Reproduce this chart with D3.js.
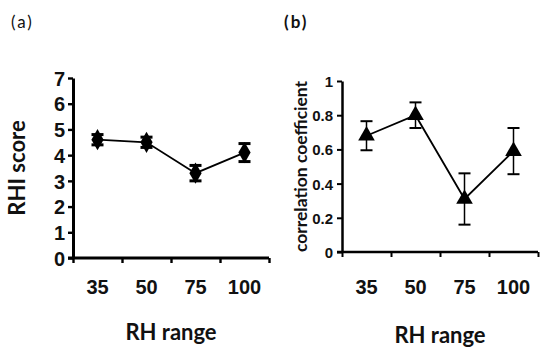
<!DOCTYPE html>
<html><head><meta charset="utf-8">
<script src="https://cdn.jsdelivr.net/npm/d3@7/dist/d3.min.js"></script>
<style>
html,body{margin:0;padding:0;background:#fff;}
svg{display:block;font-family:Lato,"Open Sans",sans-serif;}
</style></head>
<body>
<svg id="c" width="540" height="347"></svg>
<script>
const categories = ["35","50","75","100"];
const rhiScore = [4.6, 4.5, 3.3, 4.1];
const rhiErr = [0.2, 0.2, 0.3, 0.35];
const corrCoef = [0.68, 0.80, 0.31, 0.59];
const corrErr = [0.085, 0.075, 0.15, 0.135];
const rhiTicks = [0,1,2,3,4,5,6,7];
const corrTicks = [0,0.2,0.4,0.6,0.8,1];

const svg = d3.select("#c");

function panel(o){
  const g = svg.append("g");
  const x = d3.scaleBand().domain(categories).range([o.x0,o.x1]).padding(0);
  const xb = d3.scaleLinear().domain([0,categories.length]).range([o.x0,o.x1]);
  const y = d3.scaleLinear().domain(o.ydom).range([o.y0,o.y1]);
  // y axis
  const ya = g.append("g").attr("transform",`translate(${o.x0},0)`)
    .call(d3.axisLeft(y).tickValues(o.ticks).tickSize(5).tickSizeOuter(0).tickPadding(o.yPad).tickFormat(d=>d3.format("")(d)));
  ya.select(".domain").attr("stroke","#000").attr("stroke-width",o.axW);
  ya.selectAll(".tick line").attr("stroke","#000").attr("stroke-width",o.axW*0.8);
  ya.selectAll(".tick text").attr("font-size",o.yFs).attr("font-weight","bold").attr("fill","#111").attr("dy","0.36em");
  // x axis tick marks at band boundaries
  const xa = g.append("g").attr("transform",`translate(0,${o.y0})`)
    .call(d3.axisBottom(xb).tickValues(d3.range(categories.length+1)).tickSize(5).tickSizeOuter(0).tickFormat(""));
  xa.select(".domain").attr("stroke","#000").attr("stroke-width",o.axW).attr("d",`M${o.x0-5},0H${o.x1}`);
  xa.selectAll(".tick line").attr("stroke","#000").attr("stroke-width",o.axW*0.8);
  // x labels
  const xl = g.append("g").attr("transform",`translate(0,${o.y0})`)
    .call(d3.axisBottom(x).tickSize(0).tickPadding(0));
  xl.select(".domain").remove();
  xl.selectAll(".tick text").attr("font-size",20).attr("font-weight","bold").attr("fill","#111").attr("dy",null).attr("y",o.xLabY);
  // line
  const cx = d=>x(d)+x.bandwidth()/2;
  g.append("path").datum(categories).attr("fill","none").attr("stroke","#000").attr("stroke-width",1.8)
    .attr("d",d3.line().x(cx).y((d,i)=>y(o.vals[i])));
  // error bars
  const eb = g.append("g").selectAll("g").data(categories).join("g");
  eb.append("line").attr("x1",cx).attr("x2",cx)
    .attr("y1",(d,i)=>y(o.vals[i]-o.err[i])).attr("y2",(d,i)=>y(o.vals[i]+o.err[i]))
    .attr("stroke","#000").attr("stroke-width",o.ebW);
  [-1,1].forEach(s=>{
    eb.append("line").attr("x1",d=>cx(d)-o.cap).attr("x2",d=>cx(d)+o.cap)
      .attr("y1",(d,i)=>y(o.vals[i]+s*o.err[i])).attr("y2",(d,i)=>y(o.vals[i]+s*o.err[i]))
      .attr("stroke","#000").attr("stroke-width",o.capW);
  });
  // markers
  g.append("g").selectAll("path").data(categories).join("path")
    .attr("transform",(d,i)=>`translate(${cx(d)},${y(o.vals[i])})`)
    .attr("d",d3.symbol().type(o.sym).size(o.symSize)).attr("fill","#000");
  // y title
  g.append("text").attr("transform",`translate(${o.ytX},${(o.y0+o.y1)/2}) rotate(-90)`)
    .attr("text-anchor","middle").attr("font-size",o.ytFs).attr("font-weight","bold").attr("fill","#111").text(o.ytitle);
  // x title
  g.append("text").attr("x",(o.x0+o.x1)/2).attr("y",o.xtY).attr("text-anchor","middle")
    .attr("font-size",22).attr("font-weight","bold").attr("fill","#111").text("RH range");
  // panel label
  g.append("text").attr("x",o.lx).attr("y",28).attr("font-size",17).attr("letter-spacing",2)
    .attr("font-weight",o.lw).attr("fill","#111").text(o.label);
}

panel({x0:73,x1:269,y0:258,y1:78,ydom:[0,7],ticks:rhiTicks,vals:rhiScore,err:rhiErr,
  axW:3,yFs:20,yPad:3,xLabY:36,ebW:3,capW:3,cap:6,sym:d3.symbolDiamond,symSize:130,
  ytitle:"RHI score",ytX:25,ytFs:22,xtY:340,label:"(a)",lx:11,lw:"normal"});
panel({x0:342,x1:538,y0:252,y1:81,ydom:[0,1],ticks:corrTicks,vals:corrCoef,err:corrErr,
  axW:2.5,yFs:15,yPad:4,xLabY:42,ebW:1.5,capW:2,cap:6,sym:d3.symbolTriangle,symSize:120,
  ytitle:"correlation coefficient",ytX:307,ytFs:17.5,xtY:343,label:"(b)",lx:284,lw:"bold"});
</script>
</body></html>
